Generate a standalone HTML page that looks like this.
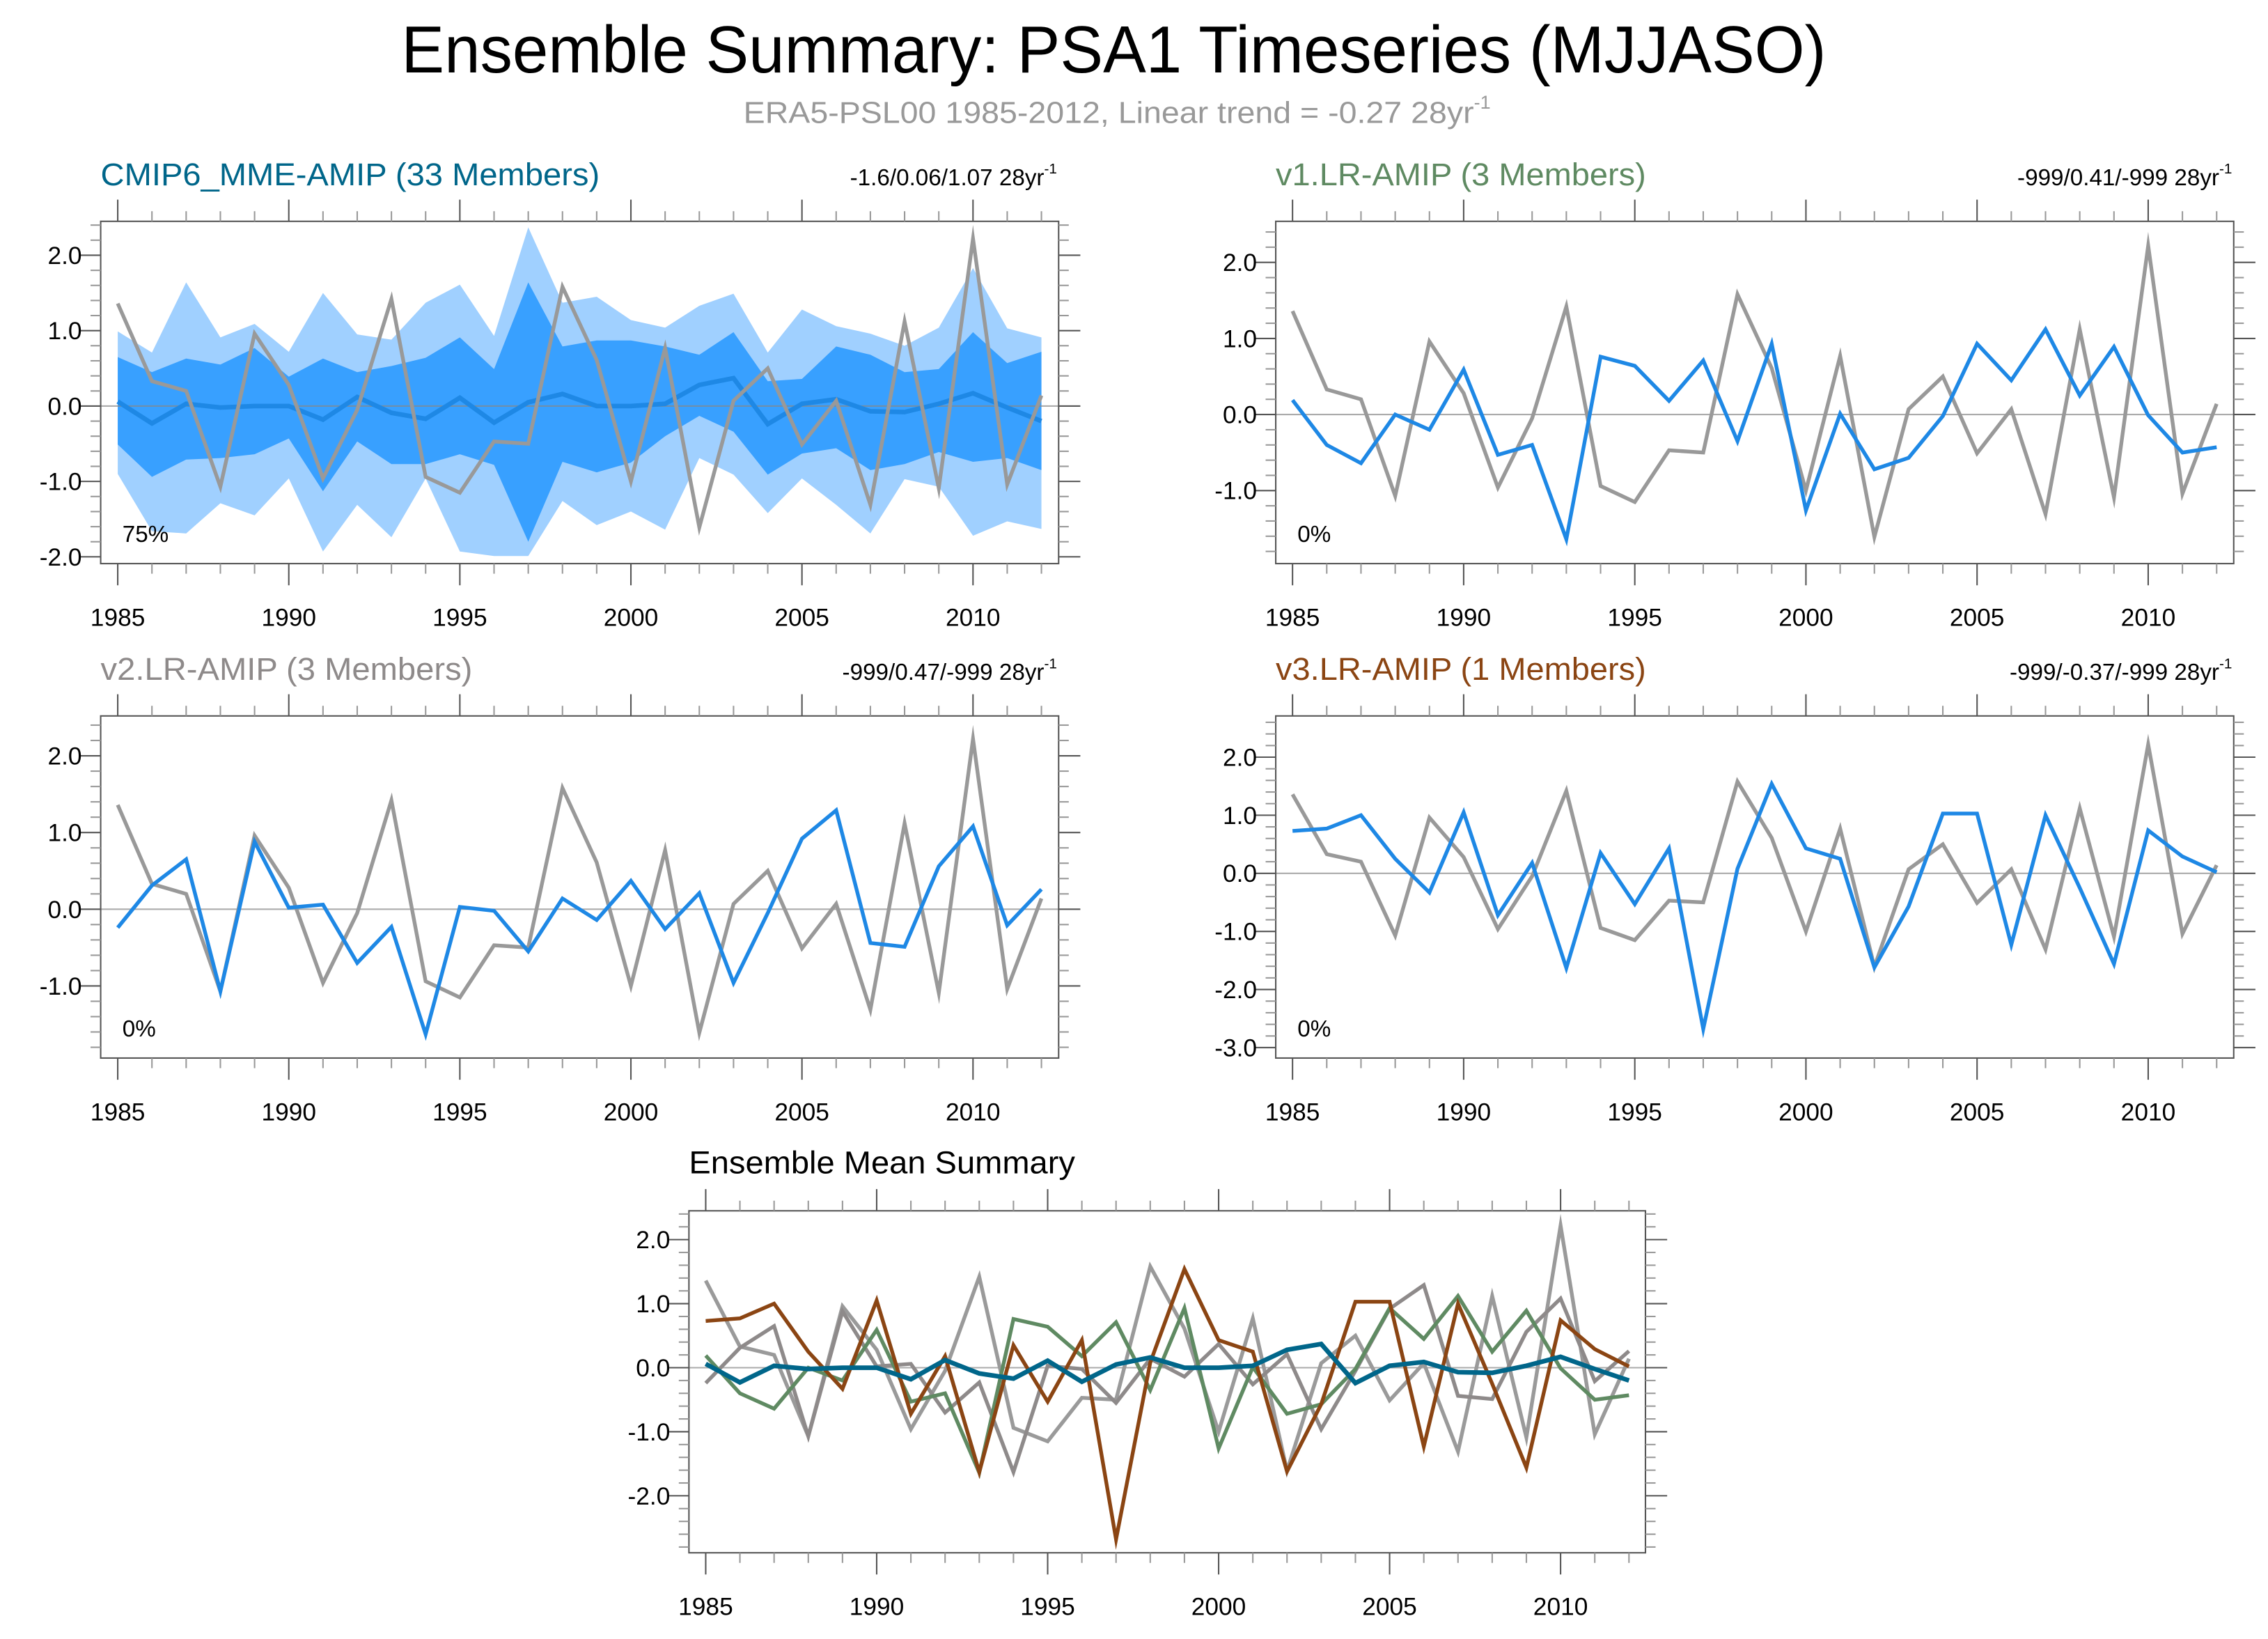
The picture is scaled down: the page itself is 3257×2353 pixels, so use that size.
<!DOCTYPE html>
<html><head><meta charset="utf-8"><style>
html,body{margin:0;padding:0;background:#fff;}
svg{display:block;font-family:"Liberation Sans",sans-serif;}
</style></head><body>
<svg id="chart" width="3257" height="2353" viewBox="0 0 1568 1133" preserveAspectRatio="none" xmlns="http://www.w3.org/2000/svg">
<rect width="1568" height="1133" fill="#fff"/>
<text x="770" y="50" font-size="46" text-anchor="middle" textLength="985" lengthAdjust="spacingAndGlyphs">Ensemble Summary: PSA1 Timeseries (MJJASO)</text>
<text x="514" y="85" font-size="21" fill="#999" textLength="505" lengthAdjust="spacingAndGlyphs">ERA5-PSL00 1985-2012, Linear trend = -0.27 28yr</text>
<text x="1019" y="75" font-size="13" fill="#999">-1</text>
<g id="plots"></g>
</svg>
<script>
const years = [1985,1986,1987,1988,1989,1990,1991,1992,1993,1994,1995,1996,1997,1998,1999,2000,2001,2002,2003,2004,2005,2006,2007,2008,2009,2010,2011,2012];
const obs = [1.36,0.33,0.2,-1.07,0.96,0.28,-0.96,-0.05,1.42,-0.94,-1.15,-0.47,-0.5,1.58,0.61,-1.0,0.77,-1.61,0.07,0.5,-0.51,0.07,-1.31,1.12,-1.09,2.22,-1.04,0.14];
const mmeMean = [0.06,-0.23,0.03,-0.02,0,0,-0.18,0.12,-0.09,-0.17,0.11,-0.22,0.05,0.16,0,0,0.03,0.28,0.37,-0.24,0.03,0.09,-0.07,-0.08,0.03,0.17,-0.02,-0.2];
const mmeP25 = [-0.51,-0.94,-0.71,-0.69,-0.64,-0.43,-1.13,-0.47,-0.77,-0.77,-0.64,-0.78,-1.8,-0.74,-0.88,-0.75,-0.4,-0.13,-0.34,-0.91,-0.63,-0.56,-0.85,-0.77,-0.61,-0.74,-0.69,-0.85];
const mmeP75 = [0.65,0.45,0.63,0.55,0.77,0.39,0.63,0.45,0.53,0.64,0.91,0.49,1.64,0.79,0.87,0.87,0.79,0.68,0.98,0.33,0.36,0.79,0.68,0.45,0.49,0.98,0.57,0.72];
const mmeMin = [-0.9,-1.66,-1.69,-1.29,-1.45,-0.96,-1.93,-1.31,-1.74,-0.96,-1.93,-1.99,-1.99,-1.26,-1.58,-1.4,-1.64,-0.69,-0.91,-1.42,-0.96,-1.31,-1.69,-0.97,-1.07,-1.72,-1.53,-1.63];
const mmeMax = [0.99,0.71,1.64,0.91,1.09,0.72,1.5,0.95,0.88,1.37,1.61,0.93,2.37,1.37,1.45,1.14,1.04,1.33,1.49,0.71,1.28,1.06,0.96,0.8,1.04,1.83,1.03,0.91];
const v1 = [0.19,-0.4,-0.64,0,-0.2,0.59,-0.53,-0.4,-1.64,0.76,0.64,0.18,0.71,-0.35,0.93,-1.26,0.01,-0.72,-0.57,-0.02,0.93,0.45,1.12,0.25,0.89,-0.01,-0.5,-0.43];
const v2 = [-0.24,0.31,0.65,-1.07,0.88,0.02,0.06,-0.7,-0.23,-1.63,0.03,-0.02,-0.55,0.14,-0.14,0.37,-0.26,0.21,-0.96,-0.05,0.92,1.29,-0.44,-0.49,0.56,1.08,-0.21,0.26];
const v3 = [0.73,0.77,1.0,0.25,-0.33,1.05,-0.72,0.18,-1.63,0.35,-0.53,0.43,-2.68,0.08,1.54,0.43,0.25,-1.62,-0.57,1.03,1.03,-1.23,1.0,-0.25,-1.56,0.74,0.29,0.02];
const xTickLabels = ["1985","1990","1995","2000","2005","2010"];

const NS = "http://www.w3.org/2000/svg";
const root = document.getElementById('plots');
function mk(tag, attrs, parent){ const e=document.createElementNS(NS,tag); for(const k in attrs) e.setAttribute(k,attrs[k]); (parent||root).appendChild(e); return e; }

const panels = [
 {name:'mme', box:[69.6,153,731.9,389.6], x0:81.4, x1:720, ymin:-2.09, ymax:2.45, yt:[2,1,0,-1,-2], title:'CMIP6_MME-AMIP (33 Members)', tcol:'#00668a', tlen:345, stat:'-1.6/0.06/1.07 28yr', pct:'75%', ty:128},
 {name:'v1', box:[882,153,1544.3,389.6], x0:893.6, x1:1532.5, ymin:-1.96, ymax:2.54, yt:[2,1,0,-1], title:'v1.LR-AMIP (3 Members)', tcol:'#5f8a62', tlen:256, stat:'-999/0.41/-999 28yr', pct:'0%', ty:128},
 {name:'v2', box:[69.6,494.9,731.9,731.4], x0:81.4, x1:720, ymin:-1.94, ymax:2.52, yt:[2,1,0,-1], title:'v2.LR-AMIP (3 Members)', tcol:'#8e8a8a', tlen:257, stat:'-999/0.47/-999 28yr', pct:'0%', ty:470},
 {name:'v3', box:[882,494.9,1544.3,731.4], x0:893.6, x1:1532.5, ymin:-3.18, ymax:2.71, yt:[2,1,0,-1,-2,-3], title:'v3.LR-AMIP (1 Members)', tcol:'#8b4513', tlen:256, stat:'-999/-0.37/-999 28yr', pct:'0%', ty:470},
 {name:'summary', box:[476.3,837,1137.6,1073.4], x0:487.9, x1:1126.2, ymin:-2.89, ymax:2.45, yt:[2,1,0,-1,-2], title:'Ensemble Mean Summary', tcol:'#000', tlen:267, stat:null, pct:null, ty:811}
];

function axes(p){
 const [L,T,R,B]=p.box;
 const xs = y => p.x0 + (y-years[0])*(p.x1-p.x0)/(years[years.length-1]-years[0]);
 const ys = v => B - (v-p.ymin)*(B-T)/(p.ymax-p.ymin);
 return {xs,ys};
}

function linePath(arr, xs, ys){ return arr.map((v,i)=>(i?'L':'M')+xs(years[i]).toFixed(2)+','+ys(v).toFixed(2)).join(''); }
function bandPath(lo, hi, xs, ys){
 let d = hi.map((v,i)=>(i?'L':'M')+xs(years[i]).toFixed(2)+','+ys(v).toFixed(2)).join('');
 for(let i=lo.length-1;i>=0;i--) d+='L'+xs(years[i]).toFixed(2)+','+ys(lo[i]).toFixed(2);
 return d+'Z';
}

panels.forEach(p=>{
 const g = mk('g',{});
 
 
 const [L,T,R,B]=p.box;
 const {xs,ys}=axes(p);
 const clipId='clip-'+p.name;
 const cp=mk('clipPath',{id:clipId},g); mk('rect',{x:L,y:T,width:R-L,height:B-T},cp);
 const data = mk('g',{'clip-path':'url(#'+clipId+')'},g);
 // titles
 const t=mk('text',{x:L,y:p.ty,'font-size':22,fill:p.tcol,textLength:p.tlen,lengthAdjust:'spacingAndGlyphs'},g);
 t.textContent=p.title;
 
 
 if(p.stat){
  const s=mk('text',{x:R-10,y:p.ty,'font-size':16,'text-anchor':'end'},g);
  s.textContent=p.stat;
  
  
  const sup=mk('text',{x:R-10,y:p.ty-8,'font-size':10},g); sup.textContent='-1';
  
  
 }
 // series
 if(p.name==='mme'){
  const b1=mk('path',{d:bandPath(mmeMin,mmeMax,xs,ys),fill:'#a0d0ff'},data);
  
  
  const b2=mk('path',{d:bandPath(mmeP25,mmeP75,xs,ys),fill:'#38a0ff'},data);
  
  
 }
 const z=mk('line',{x1:L,x2:R,y1:ys(0),y2:ys(0),stroke:'#888','stroke-width':1,'stroke-opacity':0.7},data);
 
 
 let series=[];
 if(p.name==='mme') series=[['ensemble-mean-line',mmeMean,'#1e88e5',3.2],['observed-line',obs,'#999',2.6]];
 else if(p.name==='v1') series=[['observed-line',obs,'#999',2.6],['v1-line',v1,'#1e88e5',2.6]];
 else if(p.name==='v2') series=[['observed-line',obs,'#999',2.6],['v2-line',v2,'#1e88e5',2.6]];
 else if(p.name==='v3') series=[['observed-line',obs,'#999',2.6],['v3-line',v3,'#1e88e5',2.6]];
 else series=[['observed-line',obs,'#9a9a9a',2.6],['v2-mean-line',v2,'#8e8a8a',2.6],['v1-mean-line',v1,'#5f8a62',2.6],['v3-mean-line',v3,'#8b4513',2.6],['mme-mean-line',mmeMean,'#00668a',3.2]];
 series.forEach(s=>{
  const e=mk('path',{d:linePath(s[1],xs,ys),fill:'none',stroke:s[2],'stroke-width':s[3],'stroke-linejoin':'miter','stroke-miterlimit':10},data);
  
  
 });
 // frame
 const fr=mk('rect',{x:L,y:T,width:R-L,height:B-T,fill:'none',stroke:'#555','stroke-width':1},g);
 
 
 // x ticks
 years.forEach(y=>{
  const major=(y%5===0); const len=major?15:7; const x=xs(y);
  mk('line',{x1:x,x2:x,y1:T,y2:T-len,stroke:major?'#555':'#999','stroke-width':1},g);
  mk('line',{x1:x,x2:x,y1:B,y2:B+len,stroke:major?'#555':'#999','stroke-width':1},g);
 });
 xTickLabels.forEach(lbl=>{
  const xl=mk('text',{x:xs(+lbl),y:B+43,'font-size':17,'text-anchor':'middle'},g);
  xl.textContent=lbl;
  
  
 });
 // y ticks
 for(let k=Math.ceil(p.ymin*5);k<=Math.floor(p.ymax*5);k++){
  const v=k/5; const major=(k%5===0); const len=major?15:7; const y=ys(v);
  mk('line',{x1:L,x2:L-len,y1:y,y2:y,stroke:major?'#555':'#999','stroke-width':1},g);
  mk('line',{x1:R,x2:R+len,y1:y,y2:y,stroke:major?'#555':'#999','stroke-width':1},g);
 }
 p.yt.forEach(v=>{
  const yl=mk('text',{x:L-13,y:ys(v)+6,'font-size':17,'text-anchor':'end'},g);
  yl.textContent=v.toFixed(1);
  
  
 });
 if(p.pct){
  const pc=mk('text',{x:L+15,y:B-15,'font-size':16},g);
  pc.textContent=p.pct;
  
  
 }
});
</script>
</body></html>
